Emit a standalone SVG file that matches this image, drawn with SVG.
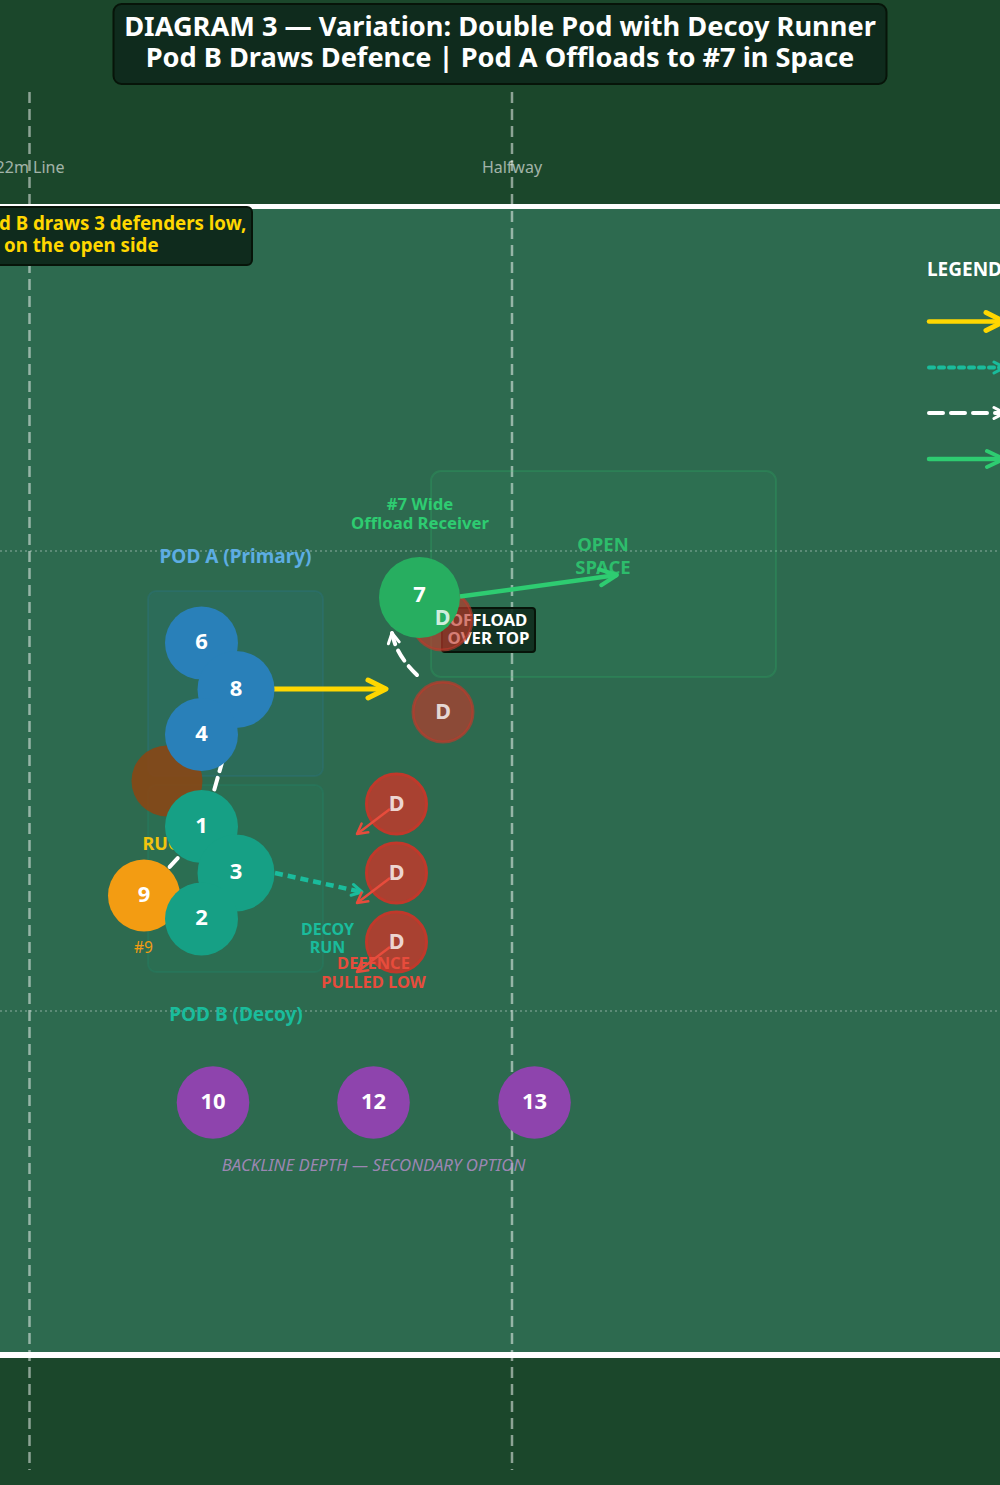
<svg xmlns="http://www.w3.org/2000/svg" width="1000" height="1485" viewBox="0 0 1000 1485">
<style>
text{font-family:"Noto Sans","Open Sans","Liberation Sans",sans-serif}
.b{font-weight:700}
.num{font-weight:700;font-size:22px;fill:#fff;text-anchor:middle}
.dtx{font-weight:700;font-size:21.5px;fill:#fff;fill-opacity:.8;text-anchor:middle}
.mid{text-anchor:middle}
.vline{stroke:#fff;stroke-opacity:.5;stroke-width:2.5;stroke-dasharray:11 6}
.hdot{stroke:#fff;stroke-opacity:.3;stroke-width:1.5;stroke-dasharray:2 3}
.panel{fill:#0f2b1d;stroke:#071409;stroke-width:2}
.def{fill:#c0392b;stroke:#c0392b;stroke-width:3}
.pass{fill:none;stroke:#fff;stroke-width:4;stroke-dasharray:12 7;stroke-linecap:round}
</style>
<defs>
<marker id="ah-yellow" markerUnits="userSpaceOnUse" viewBox="0 0 24 24" refX="21" refY="12" markerWidth="24" markerHeight="24" orient="auto" overflow="visible"><path d="M3,3 L21,12 L3,21" fill="none" stroke="#ffd700" stroke-width="5" stroke-linecap="round" stroke-linejoin="round"/></marker>
<marker id="ah-green" markerUnits="userSpaceOnUse" viewBox="0 0 24 24" refX="21" refY="12" markerWidth="24" markerHeight="24" orient="auto" overflow="visible"><path d="M4,4 L21,12 L4,20" fill="none" stroke="#2ecc71" stroke-width="4" stroke-linecap="round" stroke-linejoin="round"/></marker>
<marker id="ah-teal" markerUnits="userSpaceOnUse" viewBox="0 0 14 14" refX="12" refY="7" markerWidth="14" markerHeight="14" orient="auto" overflow="visible"><path d="M2,1.5 L12,7 L2,12.5" fill="none" stroke="#1abc9c" stroke-width="3" stroke-linecap="round" stroke-linejoin="round"/></marker>
<marker id="ah-white" markerUnits="userSpaceOnUse" viewBox="0 0 14 14" refX="12" refY="7" markerWidth="14" markerHeight="14" orient="auto" overflow="visible"><path d="M2,1.5 L12,7 L2,12.5" fill="none" stroke="#fff" stroke-width="3" stroke-linecap="round" stroke-linejoin="round"/></marker>
<marker id="ah-red" markerUnits="userSpaceOnUse" viewBox="0 0 14 14" refX="12" refY="7" markerWidth="14" markerHeight="14" orient="auto" overflow="visible"><path d="M2,1.5 L12,7 L2,12.5" fill="none" stroke="#e74c3c" stroke-width="2.5" stroke-linecap="round" stroke-linejoin="round"/></marker>
</defs>

<!-- background -->
<rect x="0" y="0" width="1000" height="1485" fill="#1b472b"/>
<rect x="0" y="209" width="1000" height="1143" fill="#2d6a4f"/>
<rect x="0" y="204" width="1000" height="5" fill="#fff"/>
<rect x="0" y="1352" width="1000" height="6" fill="#fff"/>

<g id="field-lines">
<line class="vline" x1="29.5" y1="92" x2="29.5" y2="1470"/>
<line class="vline" x1="512" y1="92" x2="512" y2="1470"/>
<line class="hdot" x1="0" y1="551" x2="1000" y2="551"/>
<line class="hdot" x1="0" y1="1011" x2="1000" y2="1011"/>
<text x="30" y="173" class="mid" font-size="16" fill="#fff" fill-opacity=".6">22m Line</text>
<text x="512" y="173" class="mid" font-size="16" fill="#fff" fill-opacity=".6">Halfway</text>
</g>

<g id="zones">
<rect id="pod-a-zone" x="148" y="591" width="175" height="185" rx="8" fill="#2980b9" fill-opacity=".1" stroke="#2980b9" stroke-opacity=".15" stroke-width="2"/>
<rect id="pod-b-zone" x="148" y="785" width="175" height="187" rx="8" fill="#16a085" fill-opacity=".08" stroke="#16a085" stroke-opacity=".15" stroke-width="2"/>
<rect id="open-space-zone" x="431" y="471" width="345" height="206" rx="10" fill="#2ecc71" fill-opacity=".06" stroke="#2ecc71" stroke-opacity=".18" stroke-width="2"/>
</g>

<g id="title">
<rect class="panel" x="113.5" y="4" width="773" height="80" rx="8"/>
<text x="500" y="36" class="b mid" font-size="27.2" fill="#fff">DIAGRAM 3 — Variation: Double Pod with Decoy Runner</text>
<text x="500" y="67" class="b mid" font-size="27.2" fill="#fff">Pod B Draws Defence | Pod A Offloads to #7 in Space</text>
</g>

<g id="note">
<rect class="panel" x="-20" y="207" width="272" height="58" rx="5"/>
<text x="-1" y="230" class="b" font-size="18.7" fill="#ffd700">d B draws 3 defenders low,</text>
<text x="4" y="252" class="b" font-size="18.7" fill="#ffd700">on the open side</text>
</g>

<g id="legend">
<text x="927" y="276" class="b" font-size="19" fill="#fff">LEGEND</text>
<line x1="929" y1="321.5" x2="1004" y2="321.5" stroke="#ffd700" stroke-width="4.5" stroke-linecap="round" marker-end="url(#ah-yellow)"/>
<line x1="929" y1="367.5" x2="1004" y2="367.5" stroke="#1abc9c" stroke-width="4" stroke-dasharray="5 5" stroke-linecap="round" marker-end="url(#ah-teal)"/>
<line x1="929" y1="413" x2="1004" y2="413" stroke="#fff" stroke-width="4" stroke-dasharray="14 8" stroke-linecap="round" marker-end="url(#ah-white)"/>
<line x1="929" y1="459" x2="1004" y2="459" stroke="#2ecc71" stroke-width="4.5" stroke-linecap="round" marker-end="url(#ah-green)"/>
</g>

<g id="offload-label">
<rect x="442" y="608" width="93" height="44" rx="3" fill="#0f2b1d" fill-opacity=".9" stroke="#071409" stroke-width="2"/>
<text x="488.5" y="625.5" class="b mid" font-size="16.8" fill="#fff">OFFLOAD</text>
<text x="488.5" y="643.5" class="b mid" font-size="16.8" fill="#fff">OVER TOP</text>
</g>

<g id="defender-1"><circle class="def" cx="442" cy="620" r="30" fill-opacity=".65" stroke-opacity=".65"/></g>
<g id="defender-2"><circle class="def" cx="443" cy="712" r="30" fill-opacity=".65" stroke-opacity=".65"/><text class="dtx" x="443" y="719" fill-opacity=".7">D</text></g>
<g id="defender-3"><circle class="def" cx="396.5" cy="804" r="30" fill-opacity=".85"/><text class="dtx" x="396.5" y="811">D</text></g>
<g id="defender-4"><circle class="def" cx="396.5" cy="873" r="30" fill-opacity=".85"/><text class="dtx" x="396.5" y="880">D</text></g>
<g id="defender-5"><circle class="def" cx="396.5" cy="942" r="30" fill-opacity=".85"/><text class="dtx" x="396.5" y="949">D</text></g>

<g id="connectors">
<line x1="274" y1="689" x2="386" y2="689" stroke="#ffd700" stroke-width="5" marker-end="url(#ah-yellow)"/>
<line x1="460" y1="596.5" x2="617" y2="575" stroke="#2ecc71" stroke-width="4.5" marker-end="url(#ah-green)"/>
<line x1="275" y1="873" x2="362" y2="892" stroke="#1abc9c" stroke-width="4.5" stroke-dasharray="8 5" marker-end="url(#ah-teal)"/>
<path class="pass" d="M144,895 L207,826"/>
<path class="pass" d="M204,826 L242,692"/>
<path class="pass" d="M417,675 Q396,655 392,633" marker-end="url(#ah-white)"/>
<line x1="390" y1="809" x2="357" y2="834" stroke="#e74c3c" stroke-width="2.5" marker-end="url(#ah-red)"/>
<line x1="390" y1="878" x2="357" y2="903" stroke="#e74c3c" stroke-width="2.5" marker-end="url(#ah-red)"/>
<line x1="390" y1="947" x2="357" y2="972" stroke="#e74c3c" stroke-width="2.5" marker-end="url(#ah-red)"/>
</g>

<g id="ruck"><circle cx="167" cy="781" r="35.5" fill="#8b4513" fill-opacity=".88"/><text x="167" y="850" class="b mid" font-size="18" fill="#f1c40f">RUCK</text></g>
<g id="player-6"><circle cx="201.5" cy="643" r="36.5" fill="#2980b9"/><text class="num" x="201.5" y="649">6</text></g>
<g id="player-8"><circle cx="236" cy="689.5" r="38.5" fill="#2980b9"/><text class="num" x="236" y="695.5">8</text></g>
<g id="player-4"><circle cx="201.5" cy="734.5" r="36.5" fill="#2980b9"/><text class="num" x="201.5" y="740.5">4</text></g>
<g id="player-1"><circle cx="201.5" cy="826.5" r="36.5" fill="#16a085"/><text class="num" x="201.5" y="832.5">1</text></g>
<g id="player-3"><circle cx="236" cy="873" r="38.5" fill="#16a085"/><text class="num" x="236" y="879">3</text></g>
<g id="player-9"><circle cx="144" cy="895.5" r="36" fill="#f39c12"/><text class="num" x="144" y="901.5">9</text><text x="143.5" y="953" class="mid" font-size="15.5" fill="#f39c12">#9</text></g>
<g id="player-2"><circle cx="201.5" cy="919" r="36.5" fill="#16a085"/><text class="num" x="201.5" y="925">2</text></g>
<g id="player-7"><circle cx="419.5" cy="597.5" r="40.5" fill="#27ae60"/><text class="num" x="419.5" y="602">7</text></g>
<g id="defender-1-label"><text class="dtx" x="442.5" y="625" fill-opacity=".7">D</text></g>
<g id="player-10"><circle cx="213" cy="1102.5" r="36.3" fill="#8e44ad"/><text class="num" x="213" y="1108.5">10</text></g>
<g id="player-12"><circle cx="373.5" cy="1102.5" r="36.3" fill="#8e44ad"/><text class="num" x="373.5" y="1108.5">12</text></g>
<g id="player-13"><circle cx="534.5" cy="1102.5" r="36.3" fill="#8e44ad"/><text class="num" x="534.5" y="1108.5">13</text></g>

<g id="labels">
<text x="235.5" y="563" class="b mid" font-size="19" fill="#5dade2">POD A (Primary)</text>
<text x="236" y="1021" class="b mid" font-size="19" fill="#1abc9c">POD B (Decoy)</text>
<text x="420" y="510" class="b mid" font-size="16.7" fill="#2ecc71">#7 Wide</text>
<text x="420" y="529" class="b mid" font-size="16.7" fill="#2ecc71">Offload Receiver</text>
<text x="603" y="551" class="b mid" font-size="18.5" fill="#2ecc71" fill-opacity=".85">OPEN</text>
<text x="603" y="574" class="b mid" font-size="18.5" fill="#2ecc71" fill-opacity=".85">SPACE</text>
<text x="327.5" y="935" class="b mid" font-size="16" fill="#1abc9c">DECOY</text>
<text x="327.5" y="953" class="b mid" font-size="16" fill="#1abc9c">RUN</text>
<text x="373.5" y="969" class="b mid" font-size="16.5" fill="#e74c3c">DEFENCE</text>
<text x="373.5" y="988" class="b mid" font-size="16.5" fill="#e74c3c">PULLED LOW</text>
<text x="373.5" y="1171" class="mid" font-size="16.8" font-style="italic" fill="#bb8fce" fill-opacity=".8">BACKLINE DEPTH — SECONDARY OPTION</text>
</g>
</svg>
